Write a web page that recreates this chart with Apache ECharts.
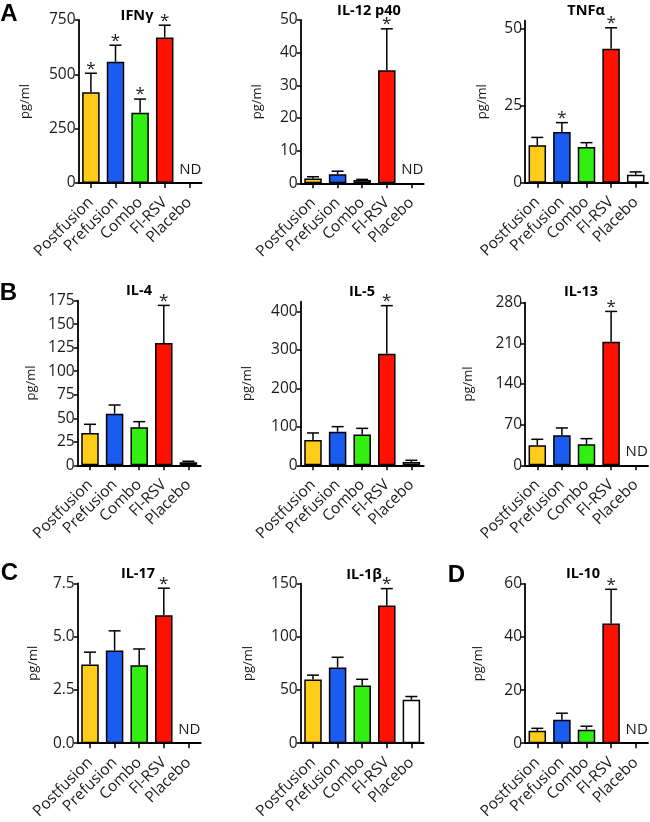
<!DOCTYPE html>
<html>
<head>
<meta charset="utf-8">
<script src="https://cdn.jsdelivr.net/npm/echarts@6/dist/echarts.min.js"></script>
<style>
html,body{margin:0;padding:0;background:#fff;}
#chart{width:650px;height:822px;}
</style>
</head>
<body>
<div id="chart"></div>
<script>
// ---------- DATA ----------
const categories = ['Postfusion', 'Prefusion', 'Combo', 'FI-RSV', 'Placebo'];

const ifngMean = [417, 558, 323, 670, null];
const ifngSem  = [88, 76, 63, 56, null];
const ifngSig  = [1, 1, 1, 1, 0];

const il12Mean = [1.5, 2.75, 1.0, 34.6, null];
const il12Sem  = [0.5, 0.95, 0.2, 12.7, null];
const il12Sig  = [0, 0, 0, 1, 0];

const tnfMean = [12.2, 16.5, 11.6, 43.5, 2.6];
const tnfSem  = [2.5, 3.0, 1.4, 6.8, 0.9];
const tnfSig  = [0, 1, 0, 1, 0];

const il4Mean = [34.4, 54.9, 40.4, 130, 3.2];
const il4Sem  = [9.2, 9.2, 6.0, 40, 1.1];
const il4Sig  = [0, 0, 0, 1, 0];

const il5Mean = [65.8, 87.4, 79.7, 290, 8.7];
const il5Sem  = [18.2, 13, 16.3, 124.7, 4.3];
const il5Sig  = [0, 0, 0, 1, 0];

const il13Mean = [34.4, 51.6, 36.1, 212.9, null];
const il13Sem  = [10.4, 12.7, 9.8, 52.1, null];
const il13Sig  = [0, 0, 0, 1, 0];

const il17Mean = [3.69, 4.35, 3.66, 6.0, null];
const il17Sem  = [0.58, 0.92, 0.76, 1.27, null];
const il17Sig  = [0, 0, 0, 1, 0];

const il1bMean = [59.8, 71.3, 54.3, 129.6, 40.9];
const il1bSem  = [4.2, 9.5, 5.8, 15.8, 3.0];
const il1bSig  = [0, 0, 0, 1, 0];

const il10Mean = [4.65, 8.8, 5.1, 45.1, null];
const il10Sem  = [0.95, 2.5, 1.3, 12.9, null];
const il10Sig  = [0, 0, 0, 1, 0];

const ifngTicks = [0, 250, 500, 750];
const il12Ticks = [0, 10, 20, 30, 40, 50];
const tnfTicks  = [0, 25, 50];
const il4Ticks  = [0, 25, 50, 75, 100, 125, 150, 175];
const il5Ticks  = [0, 100, 200, 300, 400];
const il13Ticks = [0, 70, 140, 210, 280];
const il17Ticks = [0, 2.5, 5.0, 7.5];
const il1bTicks = [0, 50, 100, 150];
const il10Ticks = [0, 20, 40, 60];

// ---------- STYLE / LAYOUT ----------
const barColors = ['#FFCC1A', '#1A5CF0', '#33EE11', '#FF1100', '#FFFFFF'];
const FONT = '"Open Sans", "Liberation Sans", sans-serif';
const TXT = '#1a1a1a';

const panels = [
  {title:'IFNγ',     mean:ifngMean, sem:ifngSem, sig:ifngSig, ticks:ifngTicks, max:750,  dec:0,
   grid:{left:78.6, top:20,    width:123, height:163},   nameGap:47, tx:137, ty:16},
  {title:'IL-12 p40',mean:il12Mean, sem:il12Sem, sig:il12Sig, ticks:il12Ticks, max:50,   dec:0,
   grid:{left:300.7,top:20,    width:123, height:163.3}, nameGap:37, tx:369, ty:11},
  {title:'TNFα',     mean:tnfMean,  sem:tnfSem,  sig:tnfSig,  ticks:tnfTicks,  max:52.6, dec:0,
   grid:{left:525,  top:20.7,  width:123, height:162},   nameGap:36, tx:586, ty:11},
  {title:'IL-4',     mean:il4Mean,  sem:il4Sem,  sig:il4Sig,  ticks:il4Ticks,  max:175,  dec:0,
   grid:{left:77.7, top:300.7, width:123, height:164.6}, nameGap:40, tx:139, ty:291},
  {title:'IL-5',     mean:il5Mean,  sem:il5Sem,  sig:il5Sig,  ticks:il5Ticks,  max:425,  dec:0,
   grid:{left:300.7,top:301.7, width:123, height:163.6}, nameGap:47, tx:362, ty:292},
  {title:'IL-13',    mean:il13Mean, sem:il13Sem, sig:il13Sig, ticks:il13Ticks, max:280,  dec:0,
   grid:{left:525,  top:302.7, width:123, height:162.6}, nameGap:50, tx:581, ty:292},
  {title:'IL-17',    mean:il17Mean, sem:il17Sem, sig:il17Sig, ticks:il17Ticks, max:7.5,  dec:1,
   grid:{left:77.7, top:583.3, width:123, height:163.4}, nameGap:38, tx:138, ty:574},
  {title:'IL-1β',    mean:il1bMean, sem:il1bSem, sig:il1bSig, ticks:il1bTicks, max:150,  dec:0,
   grid:{left:300.7,top:583.7, width:123, height:164},   nameGap:46, tx:364, ty:575},
  {title:'IL-10',    mean:il10Mean, sem:il10Sem, sig:il10Sig, ticks:il10Ticks, max:60,   dec:0,
   grid:{left:525,  top:584,   width:123, height:163.3}, nameGap:40, tx:583, ty:574}
];

const letters = [
  {t:'A', x:9,   y:14},
  {t:'B', x:8.5, y:293.5},
  {t:'C', x:9.5, y:573.5},
  {t:'D', x:456.5, y:575}
];

// ---------- BUILD ----------
const grids = [], xAxes = [], yAxes = [], series = [], graphics = [];

function renderErr(params, api) {
  const i = api.value(0), m = api.value(1), s = api.value(2);
  const base = api.coord([i, m]);
  const top = api.coord([i, m + s]);
  const half = 6;
  return {
    type: 'group',
    children: [
      {type:'line', shape:{x1:base[0], y1:base[1], x2:top[0], y2:top[1]}, style:{stroke:'#000', lineWidth:1.5}},
      {type:'line', shape:{x1:top[0]-half, y1:top[1], x2:top[0]+half, y2:top[1]}, style:{stroke:'#000', lineWidth:1.5}}
    ]
  };
}
function renderStar(params, api) {
  const i = api.value(0), v = api.value(1);
  const p = api.coord([i, v]);
  return {type:'text', x:p[0], y:p[1] + 4,
    style:{text:'*', font:'17px ' + FONT, fill:TXT, align:'center', verticalAlign:'bottom'}};
}
function renderND(params, api) {
  const i = api.value(0);
  const p = api.coord([i, 0]);
  return {type:'text', x:p[0] + 1, y:p[1] - 6,
    style:{text:'ND', font:'15px ' + FONT, fill:TXT, align:'center', verticalAlign:'bottom'}};
}

panels.forEach((p, k) => {
  grids.push(Object.assign({containLabel:false}, p.grid));
  xAxes.push({
    gridIndex:k, type:'category', data:categories,
    axisLine:{show:true, lineStyle:{color:'#000', width:1.8}},
    axisTick:{show:true, alignWithLabel:true, length:5, lineStyle:{color:'#000', width:1.5}},
    axisLabel:{interval:0, rotate:45, margin:17, color:TXT, fontFamily:FONT, fontSize:15.5},
    splitLine:{show:false}
  });
  yAxes.push({
    gridIndex:k, type:'value', min:0, max:p.max,
    name:'pg/ml', nameLocation:'middle', nameGap:p.nameGap, nameRotate:90,
    nameTextStyle:{color:TXT, fontFamily:FONT, fontSize:13},
    axisLine:{show:true, lineStyle:{color:'#000', width:1.8}},
    axisTick:{show:true, length:4, customValues:p.ticks, lineStyle:{color:'#000', width:1.5}},
    axisLabel:{customValues:p.ticks, margin:3, color:TXT, fontFamily:FONT, fontSize:15.5,
      formatter: v => Number(v).toFixed(p.dec)},
    splitLine:{show:false}
  });
  series.push({
    type:'bar', xAxisIndex:k, yAxisIndex:k, barWidth:17.5,
    data: p.mean.map((v, i) => v == null ? null : {value:v, itemStyle:{color:barColors[i]}}),
    itemStyle:{borderColor:'#000', borderWidth:1.5},
    silent:true, animation:false
  });
  const errData = [], starData = [], ndData = [];
  p.mean.forEach((v, i) => {
    if (v == null) { ndData.push([i, 0]); return; }
    errData.push([i, v, p.sem[i]]);
    if (p.sig[i]) starData.push([i, v + p.sem[i]]);
  });
  series.push({type:'custom', xAxisIndex:k, yAxisIndex:k, renderItem:renderErr, data:errData, z:5, silent:true, animation:false});
  series.push({type:'custom', xAxisIndex:k, yAxisIndex:k, renderItem:renderStar, data:starData, z:6, silent:true, animation:false});
  series.push({type:'custom', xAxisIndex:k, yAxisIndex:k, renderItem:renderND, data:ndData, z:6, silent:true, animation:false});
  graphics.push({type:'text', x:p.tx, y:p.ty,
    style:{text:p.title, font:'bold 14.5px ' + FONT, fill:'#000', align:'center', verticalAlign:'middle'}});
});
letters.forEach(l => graphics.push({type:'text', x:l.x, y:l.y,
  style:{text:l.t, font:'bold 24px "Liberation Sans", Arial, sans-serif', fill:'#000', align:'center', verticalAlign:'middle'}}));

const chart = echarts.init(document.getElementById('chart'), null, {renderer:'canvas'});
chart.setOption({
  animation:false,
  backgroundColor:'#fff',
  grid:grids, xAxis:xAxes, yAxis:yAxes, series:series, graphic:graphics
});
</script>
</body>
</html>
